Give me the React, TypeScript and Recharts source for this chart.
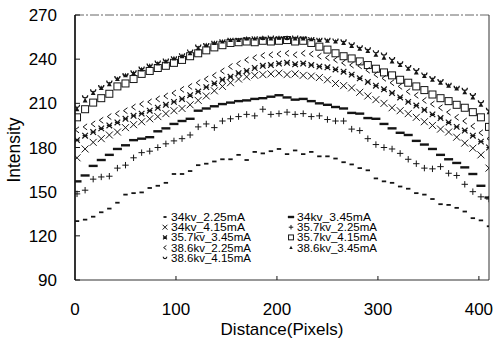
import React from 'react';
import { ScatterChart, Scatter, XAxis, YAxis, Legend, ReferenceLine } from 'recharts';

const xs = [2,10,18,26,34,42,50,58,66,74,82,90,98,106,114,122,130,138,146,154,162,170,178,186,194,202,210,218,226,234,242,250,258,266,274,282,290,298,306,314,322,330,338,346,354,362,370,378,386,394,402,410];

const s34kv225 = [130,131,133,136,138.5,142.5,148,149,149.5,152.5,154,156,162,162,164,168,169,170.5,172,172,175,171.5,177,176,177.5,179,175.5,178,175.5,177,174,174,172.5,170,168.5,166,164.5,159,157,156,153.5,152,149,148,145,141.5,141,139,136.5,132,130.5,126.5];
const s34kv345 = [157,161,167.5,171.5,175,179,181.5,185,186,187,191,193,196,198,199.5,205,206.5,208,209.5,210.5,211.5,212,213,213.5,214.5,215.5,214,212.5,213,211.5,210,209,207.5,206.5,203.5,203,200,199.5,196,193,190,188.5,184.5,182,179,175,172,169.5,166.5,162,154,146];
const s34kv415 = [173,179,183.5,186,188.5,190.5,193.5,195.5,197.5,199.5,201,203,205,206.5,209,212,215,218.5,221.5,224,226.5,228,229,229.5,230,230.5,229.5,230,229,228.5,227.5,226,223.5,222,220.5,217.5,215,212.5,210,207,205,203,200.5,197.5,195,192.5,190.5,187,183,179.5,175,166];
const s357kv225 = [148.5,151,158.5,160,160.5,166,168,173,176.5,177.5,180,182.5,184.5,186,188.5,194,196,193.5,198,199.5,201,202.5,201.5,206,202.5,203,204,202.5,203,201,201.5,199,198,198,192.5,191.5,186,182,180,179,176,172,169,166,165.5,167,162.5,161,155,150,146.5,145];
const s357kv345 = [185,188,190.5,193,195,197,199.5,201.5,203,205,207,209,211,213,215.5,218,221,223.5,226,228,230.5,232,234,235.5,236,237,237.5,236.5,237,236,235,234.5,233,231.5,229.5,227,224.5,222,219.5,217,214,211,208.5,205.5,202.5,200,197,194,191.5,188,184,180];
const s357kv415 = [200.5,206,210.5,213.5,216.5,221.5,223.5,226.5,230,232,234,235.5,237.5,239.5,242,244,246,248,249.5,251,251.5,252,251.5,252.5,252,252.5,253,252,252.5,251,248.5,246.5,244,242,240.5,238.5,236,233.5,231,229,226,224,221.5,219,216,213.5,211.5,209,207,204,200.5,194];
const s386kv225 = [192,194,196,198.5,201,203,205,207.5,209.5,211,213,215,217,219.5,221.5,224,226.5,229,232,235,237,239.5,241,242.5,243,243.5,244,243,244,243.5,242,241,239.5,237.5,236,235.5,232.5,229.5,227,224,221.5,218,215.5,212,209.5,207,204,200.5,198,194.5,190,186];
const s386kv345 = [206,212,217,220.5,223,226.5,229,230.5,233,235.5,237,238.5,240.5,242,244,247.5,249.5,251,252,253,253,254,254,254.5,254,254.5,254.5,254,254,253.5,253,252.5,252,251,249,247,245.5,243,241,238.5,236,233.5,231,228.5,226,224,222,220,217.5,214,209,204];
const s386kv415 = [208,214.5,218.5,221.5,224.5,227.5,229.5,231.5,234,236,238,239.5,241,243,245.5,249,250,251.5,252.5,253.5,253.5,254,254.5,254,255,254.5,254,255,254.5,254,253.5,253.5,253,252.5,250.5,248.5,247,245,243.5,240.5,237.5,235,233,230,227.5,225.5,223,221,219.5,216,211,206];

const seriesNames = ['34kv_2.25mA','34kv_3.45mA','34kv_4.15mA','35.7kv_2.25mA','35.7kv_3.45mA','35.7kv_4.15mA','38.6kv_2.25mA','38.6kv_3.45mA','38.6kv_4.15mA'];
const seriesValues = [s34kv225, s34kv345, s34kv415, s357kv225, s357kv345, s357kv415, s386kv225, s386kv345, s386kv415];
const seriesMarkers = ['dash','bar','x','plus','star','square','lt','tri','cup'];

const xTicks = [0,100,200,300,400];
const yTicks = [90,120,150,180,210,240,270];

const INK = '#151515';
const FONT = '"Liberation Sans", Arial, Helvetica, sans-serif';

function Marker({ kind, cx, cy, s = 1 }: { kind: string; cx: number; cy: number; s?: number }) {
  if (cx == null || cy == null) return null;
  switch (kind) {
    case 'dash':
      return <line x1={cx - 2.2 * s} x2={cx + 2.2 * s} y1={cy} y2={cy} stroke={INK} strokeWidth={1.8} />;
    case 'bar':
      return <line x1={cx - 4.5 * s} x2={cx + 4.5 * s} y1={cy} y2={cy} stroke={INK} strokeWidth={2.4} />;
    case 'x':
      return <path d={`M${cx - 3.5 * s},${cy - 3.5 * s}L${cx + 3.5 * s},${cy + 3.5 * s}M${cx - 3.5 * s},${cy + 3.5 * s}L${cx + 3.5 * s},${cy - 3.5 * s}`} stroke={INK} strokeWidth={1} fill="none" />;
    case 'plus':
      return <path d={`M${cx - 3.2 * s},${cy}H${cx + 3.2 * s}M${cx},${cy - 3.2 * s}V${cy + 3.2 * s}`} stroke={INK} strokeWidth={1} fill="none" />;
    case 'star':
      return <path d={`M${cx - 2.8 * s},${cy - 2.8 * s}L${cx + 2.8 * s},${cy + 2.8 * s}M${cx - 2.8 * s},${cy + 2.8 * s}L${cx + 2.8 * s},${cy - 2.8 * s}M${cx - 2.5 * s},${cy}H${cx + 2.5 * s}`} stroke={INK} strokeWidth={1.2} fill="none" />;
    case 'square':
      return <rect x={cx - 3.5 * s} y={cy - 3.5 * s} width={7 * s} height={7 * s} stroke={INK} strokeWidth={1} fill="none" />;
    case 'lt':
      return <path d={`M${cx + 2 * s},${cy - 3 * s}L${cx - 2 * s},${cy}L${cx + 2 * s},${cy + 3 * s}`} stroke={INK} strokeWidth={1} fill="none" />;
    case 'tri':
      return <path d={`M${cx},${cy - 2.6 * s}L${cx + 2.4 * s},${cy + 2 * s}L${cx - 2.4 * s},${cy + 2 * s}Z`} fill={INK} />;
    case 'cup':
      return <path d={`M${cx - 2.6 * s},${cy - 1.5 * s}A${2.6 * s} ${2.6 * s} 0 0 0 ${cx + 2.6 * s},${cy - 1.5 * s}`} stroke={INK} strokeWidth={1.2} fill="none" />;
    default:
      return null;
  }
}

const XTick = (p: any) => {
  const { x, y, payload } = p;
  return (
    <g>
      {payload.value !== 0 && <line x1={x} x2={x} y1={y} y2={y - 4} stroke={INK} strokeWidth={1} />}
      <text x={x} y={y + 35} textAnchor="middle" fontFamily={FONT} fontSize={17} fill="#000">{payload.value}</text>
    </g>
  );
};

const YTick = (p: any) => {
  const { x, y, payload } = p;
  return (
    <g>
      <line x1={x} x2={x + 5} y1={y} y2={y} stroke={INK} strokeWidth={1} />
      <text x={x - 18} y={y + 6} textAnchor="end" fontFamily={FONT} fontSize={17} fill="#000">{payload.value}</text>
    </g>
  );
};

const XTitle = () => (
  <text x={282} y={335} textAnchor="middle" fontFamily={FONT} fontSize={17} fill="#000">Distance(Pixels)</text>
);
const YTitle = () => (
  <text x={20} y={150} transform="rotate(-90 20 150)" textAnchor="middle" fontFamily={FONT} fontSize={17.5} fill="#000">Intensity</text>
);

const LegendBox = () => {
  const rowH = 10.2;
  return (
    <svg width={260} height={62} style={{ overflow: 'visible' }}>
      {seriesNames.map((name, i) => {
        const col = i % 2;
        const row = Math.floor(i / 2);
        const mx = col === 0 ? 15 : 141;
        const cy = 9 + row * rowH;
        return (
          <g key={name}>
            <Marker kind={seriesMarkers[i]} cx={mx} cy={cy} s={0.7} />
            <text x={mx + 6} y={cy + 4} fontFamily={FONT} fontSize={11.5} fill="#000" textLength={name.length > 11 ? 80 : 74} lengthAdjust="spacingAndGlyphs">{name}</text>
          </g>
        );
      })}
    </svg>
  );
};

export default function App() {
  return (
    <div style={{ position: 'absolute', left: 0, top: 0, background: '#fff' }}>
      <ScatterChart width={497} height={345} margin={{ top: 15, right: 8, bottom: 0, left: 0 }}>
        <XAxis
          type="number"
          dataKey="x"
          domain={[0, 410]}
          ticks={xTicks}
          interval={0}
          height={65}
          allowDataOverflow
          axisLine={{ stroke: '#333', strokeWidth: 1.2 }}
          tickLine={false}
          tickSize={0}
          tickMargin={0}
          tick={XTick}
          label={<XTitle />}
        />
        <YAxis
          type="number"
          dataKey="y"
          domain={[90, 270]}
          ticks={yTicks}
          interval={0}
          width={75}
          allowDataOverflow
          axisLine={{ stroke: '#000', strokeWidth: 1.6 }}
          tickLine={false}
          tickSize={0}
          tickMargin={0}
          tick={YTick}
          label={<YTitle />}
        />
        <ReferenceLine y={270} stroke="#666" strokeWidth={1} strokeDasharray="9 2 2 2" />
        <ReferenceLine x={410} stroke="#333" strokeWidth={1} />
        {seriesNames.map((name, i) => (
          <Scatter
            key={name}
            name={name}
            data={xs.map((x, j) => ({ x, y: seriesValues[i][j] }))}
            isAnimationActive={false}
            shape={(props: any) => <Marker kind={seriesMarkers[i]} cx={props.cx} cy={props.cy} />}
          />
        ))}
        <Legend
          layout="vertical"
          align="center"
          verticalAlign="middle"
          content={() => <LegendBox />}
          wrapperStyle={{ position: 'absolute', left: 150, top: 208, width: 260, height: 62 }}
        />
      </ScatterChart>
    </div>
  );
}
